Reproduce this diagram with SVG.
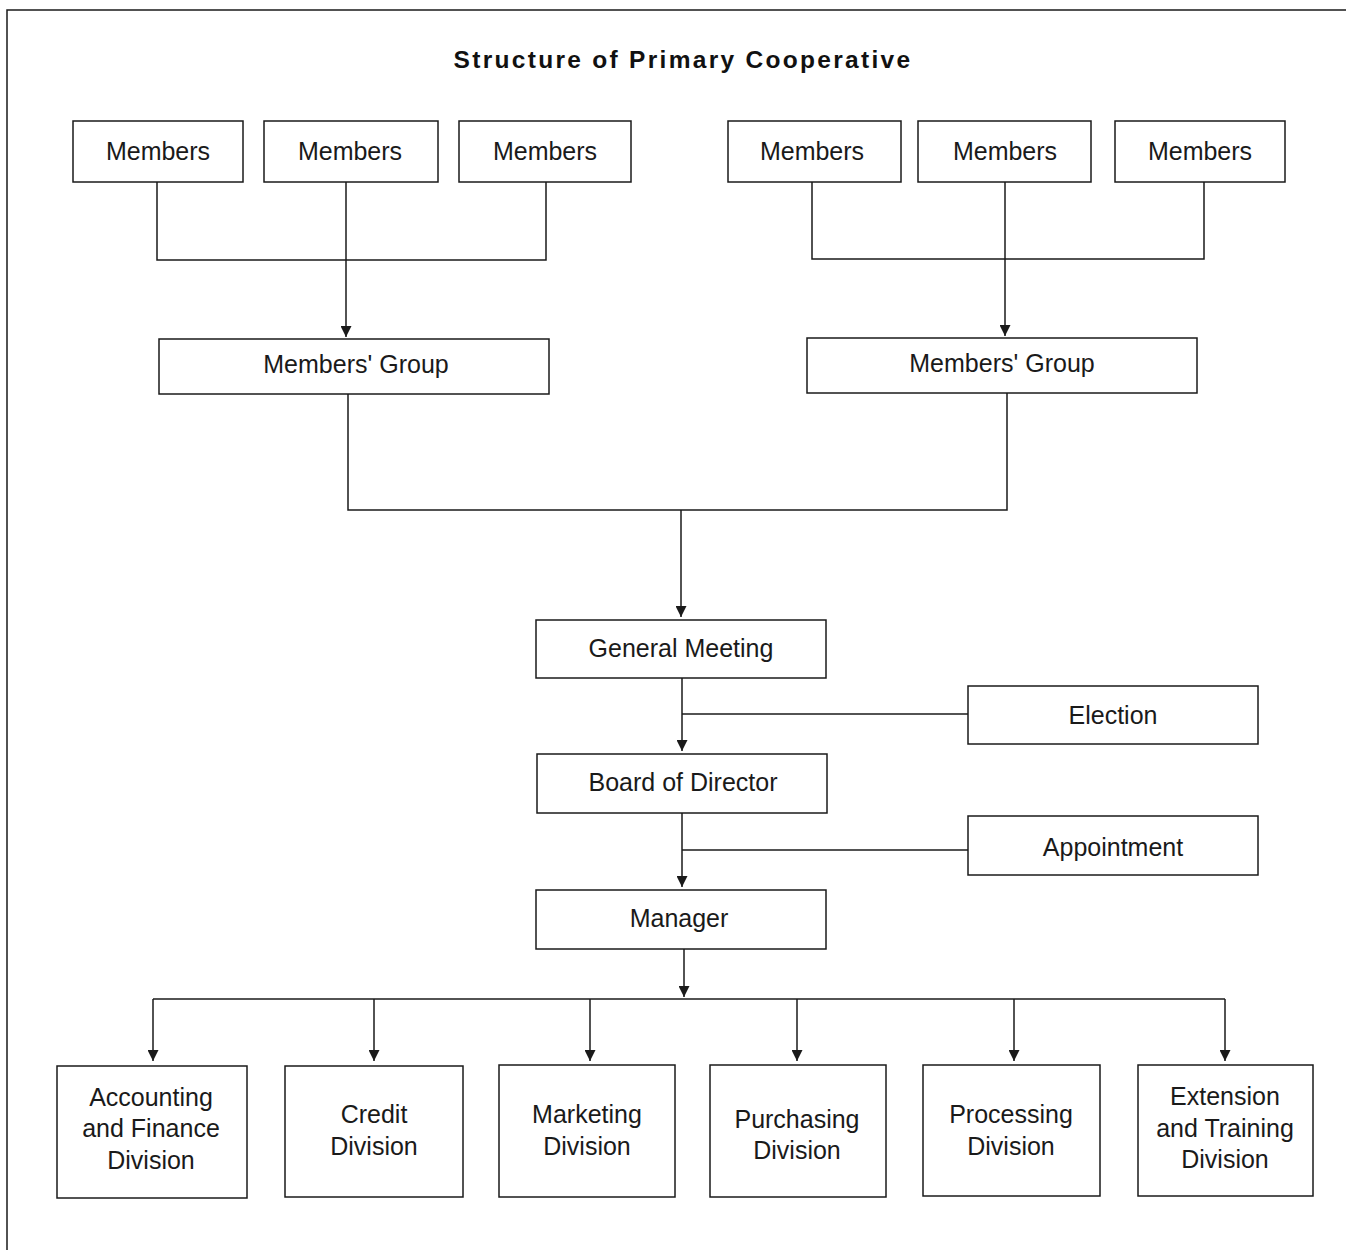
<svg xmlns="http://www.w3.org/2000/svg" width="1346" height="1250" viewBox="0 0 1346 1250">
<defs>
<marker id="arr" markerUnits="userSpaceOnUse" markerWidth="11" markerHeight="11" refX="10" refY="5" orient="auto" viewBox="0 0 10 10">
<path d="M0,0 L10,5 L0,10 z" fill="#1a1a1a"/>
</marker>
<style>
.box{fill:#fff;stroke:#1a1a1a;stroke-width:1.5}
.t{font-family:"Liberation Sans",Arial,sans-serif;font-size:25px;fill:#1a1a1a;text-anchor:middle}
.ln{fill:none;stroke:#1a1a1a;stroke-width:1.5}
.title{font-family:"Liberation Sans",Arial,sans-serif;font-size:24.5px;font-weight:bold;letter-spacing:2.3px;fill:#111;text-anchor:middle}
</style>
</defs>
<rect width="1346" height="1250" fill="#fff"/>
<path class="ln" d="M7,1250 L7,10 L1346,10" stroke-width="2"/>
<text class="title" x="683" y="68">Structure of Primary Cooperative</text>

<g id="connectors">
<path class="ln" d="M157,182 V260 H546 V182"/>
<path class="ln" d="M346,182 V337" marker-end="url(#arr)"/>
<path class="ln" d="M812,182 V259 H1204 V182"/>
<path class="ln" d="M1005,182 V336" marker-end="url(#arr)"/>
<path class="ln" d="M348,394 V510 H1007 V393"/>
<path class="ln" d="M681,510 V617" marker-end="url(#arr)"/>
<path class="ln" d="M682,678 V751" marker-end="url(#arr)"/>
<path class="ln" d="M682,714 H968"/>
<path class="ln" d="M682,813 V887" marker-end="url(#arr)"/>
<path class="ln" d="M682,850 H968"/>
<path class="ln" d="M684,949 V997" marker-end="url(#arr)"/>
<path class="ln" d="M153,999 H1225"/>
<path class="ln" d="M153,999 V1061" marker-end="url(#arr)"/>
<path class="ln" d="M374,999 V1061" marker-end="url(#arr)"/>
<path class="ln" d="M590,999 V1061" marker-end="url(#arr)"/>
<path class="ln" d="M797,999 V1061" marker-end="url(#arr)"/>
<path class="ln" d="M1014,999 V1061" marker-end="url(#arr)"/>
<path class="ln" d="M1225,999 V1061" marker-end="url(#arr)"/>
</g>

<g id="members1"><rect class="box" x="73" y="121" width="170" height="61"/><text class="t" x="158" y="160">Members</text></g>
<g id="members2"><rect class="box" x="264" y="121" width="174" height="61"/><text class="t" x="350" y="160">Members</text></g>
<g id="members3"><rect class="box" x="459" y="121" width="172" height="61"/><text class="t" x="545" y="160">Members</text></g>
<g id="members4"><rect class="box" x="728" y="121" width="173" height="61"/><text class="t" x="812" y="160">Members</text></g>
<g id="members5"><rect class="box" x="918" y="121" width="173" height="61"/><text class="t" x="1005" y="160">Members</text></g>
<g id="members6"><rect class="box" x="1115" y="121" width="170" height="61"/><text class="t" x="1200" y="160">Members</text></g>

<g id="group1"><rect class="box" x="159" y="339" width="390" height="55"/><text class="t" x="356" y="373">Members' Group</text></g>
<g id="group2"><rect class="box" x="807" y="338" width="390" height="55"/><text class="t" x="1002" y="372">Members' Group</text></g>

<g id="general-meeting"><rect class="box" x="536" y="620" width="290" height="58"/><text class="t" x="681" y="657">General Meeting</text></g>
<g id="election"><rect class="box" x="968" y="686" width="290" height="58"/><text class="t" x="1113" y="724">Election</text></g>
<g id="board"><rect class="box" x="537" y="754" width="290" height="59"/><text class="t" x="683" y="791">Board of Director</text></g>
<g id="appointment"><rect class="box" x="968" y="816" width="290" height="59"/><text class="t" x="1113" y="856">Appointment</text></g>
<g id="manager"><rect class="box" x="536" y="890" width="290" height="59"/><text class="t" x="679" y="927">Manager</text></g>

<g id="div-accounting"><rect class="box" x="57" y="1066" width="190" height="132"/><text class="t" x="151" y="1106">Accounting</text><text class="t" x="151" y="1137">and Finance</text><text class="t" x="151" y="1169">Division</text></g>
<g id="div-credit"><rect class="box" x="285" y="1066" width="178" height="131"/><text class="t" x="374" y="1123">Credit</text><text class="t" x="374" y="1155">Division</text></g>
<g id="div-marketing"><rect class="box" x="499" y="1065" width="176" height="132"/><text class="t" x="587" y="1123">Marketing</text><text class="t" x="587" y="1155">Division</text></g>
<g id="div-purchasing"><rect class="box" x="710" y="1065" width="176" height="132"/><text class="t" x="797" y="1128">Purchasing</text><text class="t" x="797" y="1159">Division</text></g>
<g id="div-processing"><rect class="box" x="923" y="1065" width="177" height="131"/><text class="t" x="1011" y="1123">Processing</text><text class="t" x="1011" y="1155">Division</text></g>
<g id="div-extension"><rect class="box" x="1138" y="1065" width="175" height="131"/><text class="t" x="1225" y="1105">Extension</text><text class="t" x="1225" y="1137">and Training</text><text class="t" x="1225" y="1168">Division</text></g>
</svg>
